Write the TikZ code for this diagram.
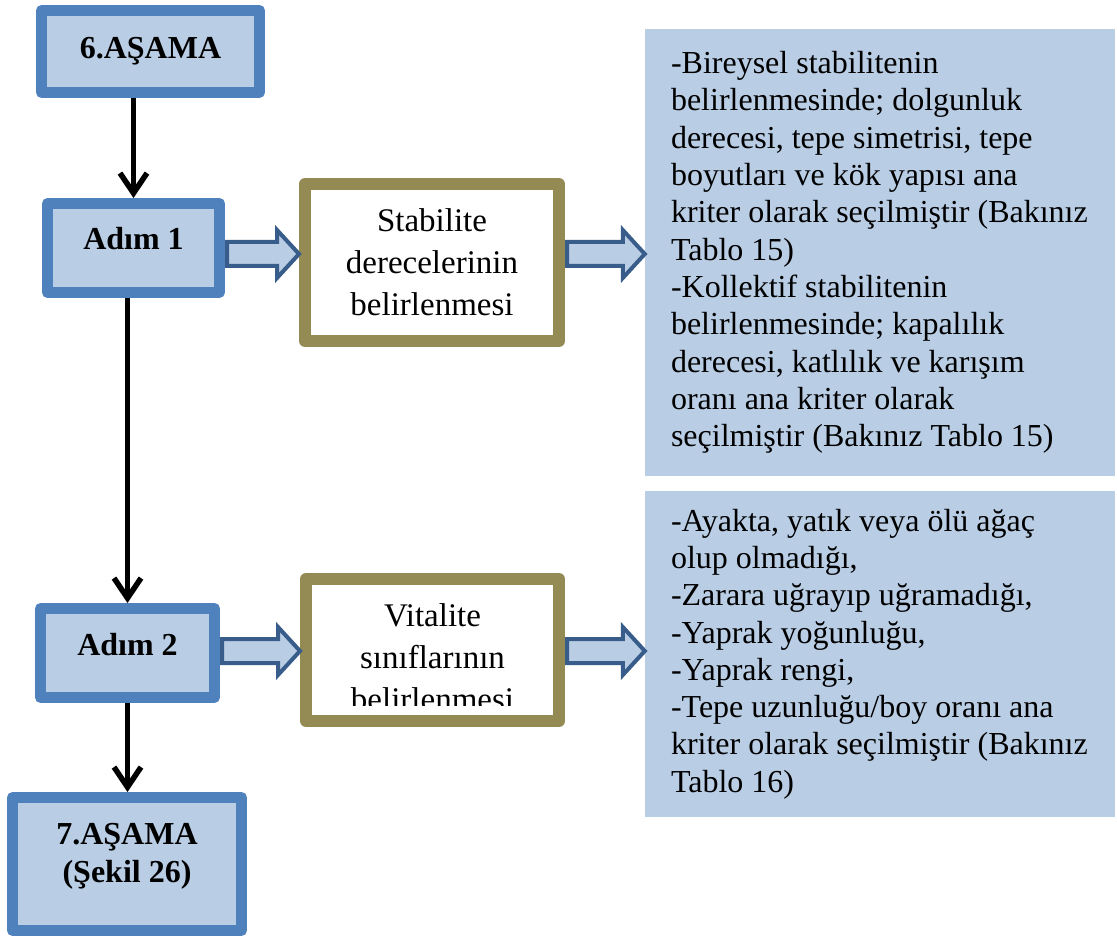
\documentclass[tikz,border=0pt]{standalone}
\usepackage{fontspec}
\setmainfont{Liberation Serif}
\usepackage{tikz}
\usetikzlibrary{arrows.meta,calc}

\definecolor{stageblue}{HTML}{4F81BD}
\definecolor{paleblue}{HTML}{B9CDE5}
\definecolor{arrowblue}{HTML}{385D8A}
\definecolor{olivebrown}{HTML}{948A54}

\tikzset{
  plainspace/.style={execute at begin node={\spaceskip=0pt\xspaceskip=0pt}},
  stagebox/.style={draw=stageblue,fill=paleblue,line width=11pt,line join=round,
    align=center,plainspace,font=\bfseries\fontsize{32}{38}\selectfont},
  taskbox/.style={draw=olivebrown,fill=white,line width=12pt,line join=round},
  tasktext/.style={align=center,plainspace,font=\fontsize{33}{42}\selectfont},
  notebox/.style={fill=paleblue,align=left,plainspace,text width=418pt,inner xsep=26pt,inner ysep=0pt,
    font=\fontsize{32}{37.3}\selectfont},
  flowarrow/.style={line width=5.5pt,-{Straight Barb[length=20pt,width=27pt]}},
  blockarrow/.style={draw=arrowblue,fill=paleblue,line width=4pt,
    to path={let \p1=(\tikztostart), \p2=(\tikztotarget) in
      (\x1+2pt,\y1+12pt) -- (\x2-22pt,\y1+12pt) -- (\x2-22pt,\y1+24pt) -- (\x2,\y1)
      -- (\x2-22pt,\y1-24pt) -- (\x2-22pt,\y1-12pt) -- (\x1+2pt,\y1-12pt) -- cycle}}
}

\begin{document}
\begin{tikzpicture}[x=1pt,y=-1pt]
  \useasboundingbox (0,0) rectangle (1117,936);

  % left column
  \node[stagebox,minimum width=218pt,minimum height=82pt] (six) at (150.5,51.5) {6.AŞAMA};
  \node[stagebox,minimum width=172pt,minimum height=89pt,text height=22pt,text depth=18pt] (adim1) at (133.5,248) {Adım 1};
  \node[stagebox,minimum width=174pt,minimum height=89pt,text height=22pt,text depth=18pt] (adim2) at (127.5,653) {Adım 2};
  \node[stagebox,minimum width=229pt,minimum height=133pt,text depth=22pt] (seven) at (127,864) {7.AŞAMA\\(Şekil 26)};

  % middle boxes
  \node[taskbox,tasktext,minimum width=254pt,minimum height=157pt] (stab) at (432,262.5) {Stabilite\\derecelerinin\\belirlenmesi};
  \node[taskbox,minimum width=253pt,minimum height=142pt] (vital) at (432.5,650) {};
  \begin{scope}
    \clip (306,585) rectangle (559,705);
    \node[tasktext] (vitaltext) at (432.5,657.5) {Vitalite\\sınıflarının\\belirlenmesi};
  \end{scope}

  % right notes
  \node[notebox,minimum height=447pt] (stabnote) at (880,252.5) {-Bireysel stabilitenin\\belirlenmesinde; dolgunluk\\derecesi, tepe simetrisi, tepe\\boyutları ve kök yapısı ana\\kriter olarak seçilmiştir (Bakınız\\Tablo 15)\\-Kollektif stabilitenin\\belirlenmesinde; kapalılık\\derecesi, katlılık ve karışım\\oranı ana kriter olarak\\seçilmiştir (Bakınız Tablo 15)};
  \node[notebox,minimum height=326pt] (vitalnote) at (880,654) {-Ayakta, yatık veya ölü ağaç\\olup olmadığı,\\-Zarara uğrayıp uğramadığı,\\-Yaprak yoğunluğu,\\-Yaprak rengi,\\-Tepe uzunluğu/boy oranı ana\\kriter olarak seçilmiştir (Bakınız\\Tablo 16)};

  \draw[flowarrow] (six.south -| adim1.north) -- (adim1.north);
  \draw[flowarrow] (adim1.south -| adim2.north) -- (adim2.north);
  \draw[flowarrow] (adim2.south) -- (adim2.south |- seven.north);

  \path[blockarrow]
    ([yshift=-6pt]adim1.east) to (stab.west)
    ([yshift=8.5pt]stab.east) to (stabnote.west)
    ([yshift=2pt]adim2.east) to (vital.west)
    ([yshift=-1pt]vital.east) to (vitalnote.west);
\end{tikzpicture}
\end{document}
